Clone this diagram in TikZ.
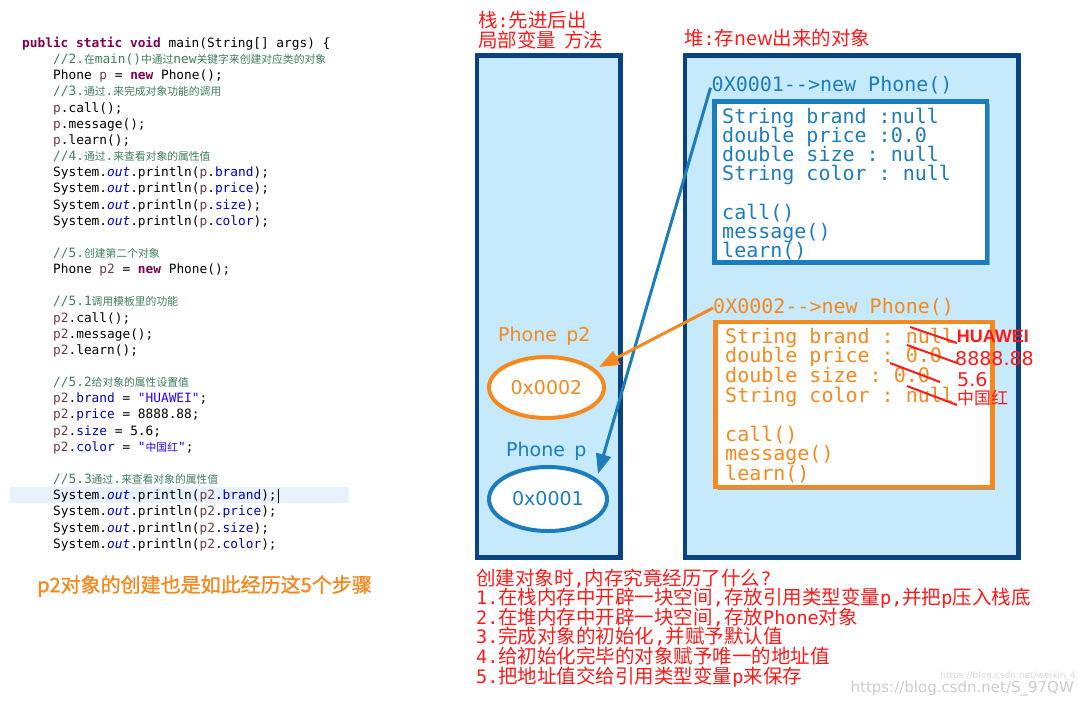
\documentclass[tikz,border=0pt]{standalone}
\usepackage{fontspec}
\setmonofont{DejaVu Sans Mono}
\setsansfont{DejaVu Sans}
\newfontfamily\cjk{Noto Sans CJK SC}
\newfontfamily\cjkb[FakeBold=1.2]{Noto Sans CJK SC}
\newfontfamily\arialf{Liberation Sans}
\usetikzlibrary{arrows.meta,shapes.geometric,shadows}
\definecolor{kwc}{HTML}{7F0055}
\definecolor{cmc}{HTML}{3F7F5F}
\definecolor{lvc}{HTML}{6A3E3E}
\definecolor{fdc}{HTML}{0000C0}
\definecolor{src}{HTML}{2A00FF}
\definecolor{hlc}{HTML}{E8F2FE}
\definecolor{stackfill}{HTML}{C6E9FB}
\definecolor{navy}{HTML}{0B4280}
\definecolor{pblue}{HTML}{1C7DBE}
\definecolor{porange}{HTML}{F5891F}
\definecolor{pred}{HTML}{FF1A1A}
\newcommand\ckw[1]{\textcolor{kwc}{\bfseries #1}}
\newcommand\ccm[1]{\textcolor{cmc}{#1}}
\newcommand\czh[1]{{\cjk\fontsize{10.8}{12}\selectfont #1}}
\newcommand\clv[1]{\textcolor{lvc}{#1}}
\newcommand\cfd[1]{\textcolor{fdc}{#1}}
\newcommand\cout{\textcolor{fdc}{\itshape out}}
\newcommand\cstr[1]{\textcolor{src}{#1}}
\newcommand\hw[1]{{\ttfamily\fontsize{18.5}{20}\selectfont #1}}
\newcommand\codeline[4]{\node[code] (#1) at (#2,{47.5+16.15*#3}) {#4};}
\tikzset{
  code/.style={anchor=base west, inner sep=0pt, font=\ttfamily\fontsize{12.8}{14}\selectfont},
  htxt/.style={anchor=base west, inner sep=0pt, font=\ttfamily\fontsize{20}{20}\selectfont},
  heading/.style={anchor=west, inner sep=0pt, text=pred, font=\cjk\fontsize{19.5}{20}\selectfont},
  steptxt/.style={anchor=west, inner sep=0pt, text=pred, text height=13.5pt, text depth=3.5pt, font=\cjk\fontsize{19.5}{20}\selectfont},
  bigbox/.style={draw=navy, line width=4.5pt, fill=stackfill, inner sep=0pt,
     drop shadow={shadow xshift=2.5pt, shadow yshift=-2.5pt, opacity=0.3, fill=black}},
  objbox/.style={line width=4.5pt, fill=white, inner sep=0pt,
     drop shadow={shadow xshift=2.5pt, shadow yshift=-2.5pt, opacity=0.3, fill=black}},
  refell/.style={ellipse, line width=4pt, fill=white, inner sep=0pt, font=\sffamily\fontsize{19}{20}\selectfont},
  plabel/.style={anchor=base west, inner sep=0pt, font=\sffamily\fontsize{19}{20}\selectfont},
  ptr/.style={line width=3pt, -{Triangle[length=20pt,width=15pt]}},
  strike/.style={pred, line width=2pt},
  newval/.style={anchor=base west, inner sep=0pt, text=pred, font=\sffamily\fontsize{19}{20}\selectfont}
}
\begin{document}
\begin{tikzpicture}[x=1pt,y=-1pt]
\useasboundingbox (0,0) rectangle (1078,705);
\fill[white] (0,0) rectangle (1078,705);

% ---------- code ----------
\fill[hlc] (10,487) rectangle (349,503);
\codeline{c0}{22}{0}{\ckw{public static void} main(String[] args) \{}
\codeline{c1}{53}{1}{\ccm{//2.\czh{在}main()\czh{中通过}new\czh{关键字来创建对应类的对象}}}
\codeline{c2}{53}{2}{Phone \clv{p} = \ckw{new} Phone();}
\codeline{c3}{53}{3}{\ccm{//3.\czh{通过}.\czh{来完成对象功能的调用}}}
\codeline{c4}{53}{4}{\clv{p}.call();}
\codeline{c5}{53}{5}{\clv{p}.message();}
\codeline{c6}{53}{6}{\clv{p}.learn();}
\codeline{c7}{53}{7}{\ccm{//4.\czh{通过}.\czh{来查看对象的属性值}}}
\codeline{c8}{53}{8}{System.\cout.println(\clv{p}.\cfd{brand});}
\codeline{c9}{53}{9}{System.\cout.println(\clv{p}.\cfd{price});}
\codeline{c10}{53}{10}{System.\cout.println(\clv{p}.\cfd{size});}
\codeline{c11}{53}{11}{System.\cout.println(\clv{p}.\cfd{color});}
\codeline{c13}{53}{13}{\ccm{//5.\czh{创建第二个对象}}}
\codeline{c14}{53}{14}{Phone \clv{p2} = \ckw{new} Phone();}
\codeline{c16}{53}{16}{\ccm{//5.1\czh{调用模板里的功能}}}
\codeline{c17}{53}{17}{\clv{p2}.call();}
\codeline{c18}{53}{18}{\clv{p2}.message();}
\codeline{c19}{53}{19}{\clv{p2}.learn();}
\codeline{c21}{53}{21}{\ccm{//5.2\czh{给对象的属性设置值}}}
\codeline{c22}{53}{22}{\clv{p2}.\cfd{brand} = \cstr{"HUAWEI"};}
\codeline{c23}{53}{23}{\clv{p2}.\cfd{price} = 8888.88;}
\codeline{c24}{53}{24}{\clv{p2}.\cfd{size} = 5.6;}
\codeline{c25}{53}{25}{\clv{p2}.\cfd{color} = \cstr{"\czh{中国红}"};}
\codeline{c27}{53}{27}{\ccm{//5.3\czh{通过}.\czh{来查看对象的属性值}}}
\codeline{c28}{53}{28}{System.\cout.println(\clv{p2}.\cfd{brand});}
\codeline{c29}{53}{29}{System.\cout.println(\clv{p2}.\cfd{price});}
\codeline{c30}{53}{30}{System.\cout.println(\clv{p2}.\cfd{size});}
\codeline{c31}{53}{31}{System.\cout.println(\clv{p2}.\cfd{color});}
\draw[black, line width=0.7pt] ([shift={(1.5pt,-3pt)}]c28.base east) -- ++(0,-14);

\node[anchor=west, inner sep=0pt, text=porange, font=\cjkb\fontsize{20}{20}\selectfont] (note) at (37,586) {p2对象的创建也是如此经历这5个步骤};

% ---------- headings ----------
\node[heading] (t1) at (478,20.5) {栈\hw{:}先进后出};
\node[heading] (t2) at (478,40.5) {局部变量\hspace{8pt}方法};
\node[heading] (t3) at (684,38.5) {堆\hw{:}存new出来的对象};

% ---------- stack & heap ----------
\node[bigbox, minimum width=143.5pt, minimum height=502pt] (stack) at (548.75,306.5) {};
\node[bigbox, minimum width=333.5pt, minimum height=502pt] (heap) at (851.75,306.5) {};

% stack contents
\node[plabel, text=porange] (lp2) at (498,341.7) {Phone\, p2};
\node[refell, draw=porange, text=porange, minimum width=115pt, minimum height=61pt] (e2) at (546.5,387.5) {0x0002};
\node[plabel, text=pblue] (lp) at (506,456.7) {Phone\, p};
\node[refell, draw=pblue, text=pblue, minimum width=118pt, minimum height=64pt] (e1) at (548,499) {0x0001};

% heap object 1
\node[htxt, text=pblue] (h1) at (711.5,91.7) {0X0001-{}->new Phone()};
\node[objbox, draw=pblue, minimum width=272.5pt, minimum height=161pt] (box1) at (850.75,182) {};
\node[htxt, text=pblue] (b1a) at (722,123) {String brand :null};
\node[htxt, text=pblue] (b1b) at (722,142.2) {double price :0.0};
\node[htxt, text=pblue] (b1c) at (722,161.4) {double size : null};
\node[htxt, text=pblue] (b1d) at (722,180.6) {String color : null};
\node[htxt, text=pblue] (b1e) at (722,219) {call()};
\node[htxt, text=pblue] (b1f) at (722,238.2) {message()};
\node[htxt, text=pblue] (b1g) at (722,257.4) {learn()};

% heap object 2
\node[htxt, text=porange] (h2) at (713,313) {0X0002-{}->new Phone()};
\node[objbox, draw=porange, minimum width=277pt, minimum height=165pt] (box2) at (854,404.5) {};
\node[htxt, text=porange] (b2a) at (725,343.3) {String brand : null};
\node[htxt, text=porange] (b2b) at (725,362.9) {double price : 0.0};
\node[htxt, text=porange] (b2c) at (725,382.5) {double size : 0.0};
\node[htxt, text=porange] (b2d) at (725,402.1) {String color : null};
\node[htxt, text=porange] (b2e) at (725,441.3) {call()};
\node[htxt, text=porange] (b2f) at (725,460.9) {message()};
\node[htxt, text=porange] (b2g) at (725,480.5) {learn()};

% overwritten values
\draw[strike] (910,327) -- (957,343);
\draw[strike] (907,345) -- (957,363);
\draw[strike] (890,363) -- (940,382);
\draw[strike] (907,386) -- (957,405);
\node[newval, font=\arialf\bfseries\fontsize{18}{20}\selectfont] (v1) at (956.7,342.7) {HUAWEI};
\node[newval] (v2) at (955,365) {8888.88};
\node[newval] (v3) at (957,386) {5.6};
\node[anchor=base west, inner sep=0pt, text=pred, font=\cjk\fontsize{17}{18}\selectfont] (v4) at (957,404) {中国红};

% pointers
\coordinate (tip1) at (598,474);
\coordinate (tip2) at (599,367);
\draw[ptr, pblue] ([shift={(-1pt,4pt)}]h1.base west) -- (tip1);
\draw[ptr, porange] ([shift={(0pt,5pt)}]h2.base west) -- (tip2);

% ---------- steps ----------
\node[steptxt] (s0) at (476,580) {创建对象时\hw{,}内存究竟经历了什么\hw{?}};
\node[steptxt] (s1) at (476,599.6) {\hw{1.}在栈内存中开辟一块空间\hw{,}存放引用类型变量\hw{p,}并把\hw{p}压入栈底};
\node[steptxt] (s2) at (476,619.2) {\hw{2.}在堆内存中开辟一块空间\hw{,}存放\hw{Phone}对象};
\node[steptxt] (s3) at (476,638.8) {\hw{3.}完成对象的初始化\hw{,}并赋予默认值};
\node[steptxt] (s4) at (476,658.4) {\hw{4.}给初始化完毕的对象赋予唯一的地址值};
\node[steptxt] (s5) at (476,678) {\hw{5.}把地址值交给引用类型变量\hw{p}来保存};

% watermark
\node[anchor=east, inner sep=0pt, text=gray!30, font=\sffamily\fontsize{9}{10}\selectfont] (wm2) at (1076,676) {https://blog.csdn.net/weixin\_4};
\node[anchor=east, inner sep=0pt, text=gray!40, font=\sffamily\fontsize{15}{16}\selectfont] (wm) at (1074,689) {https://blog.csdn.net/S\_97QW};
\end{tikzpicture}
\end{document}
